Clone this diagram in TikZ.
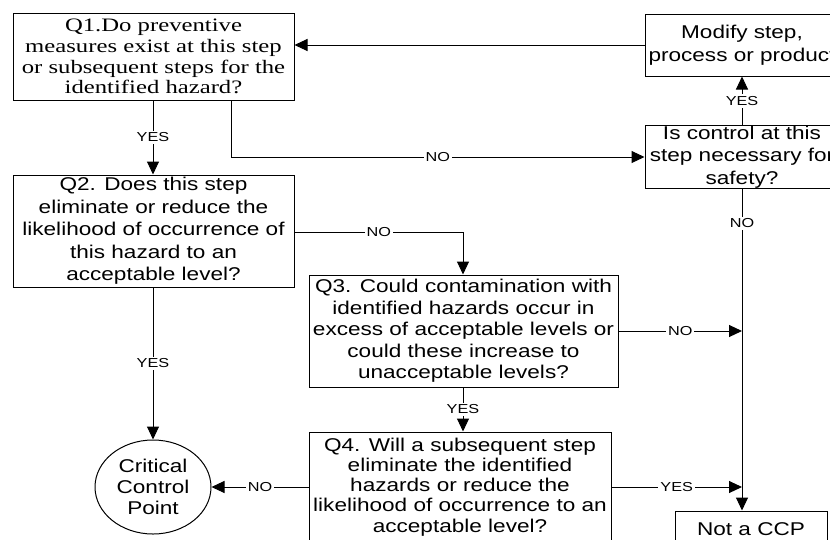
\documentclass[tikz,border=0pt]{standalone}
\usepackage{fontspec}
\usetikzlibrary{arrows.meta,shapes.geometric}
\setmainfont{Liberation Sans}
% wide-set faces for the question boxes and the YES/NO tags
\newfontfamily\boxfont[FakeStretch=1.22]{Liberation Sans}
\newfontfamily\tagfont[FakeStretch=1.25]{Liberation Sans}
\newfontfamily\serfont[FakeStretch=1.3]{Liberation Serif}

\tikzset{
  qbox/.style={draw=black, line width=1pt, rectangle, align=center, inner sep=0pt,
    font=\boxfont\fontsize{18.5}{22.5}\selectfont},
  serbox/.style={qbox, font=\serfont\fontsize{19}{20.7}\selectfont},
  endpt/.style={draw=black, line width=1pt, ellipse, align=center, inner sep=0pt,
    font=\boxfont\fontsize{18.5}{21}\selectfont},
  conn/.style={draw=black, line width=1pt},
  arr/.style={conn, -{Triangle[length=13pt,width=12pt]}},
  tag/.style={fill=white, inner sep=2pt, font=\tagfont\fontsize{13}{15}\selectfont}
}

\begin{document}
\begin{tikzpicture}[x=1pt,y=-1pt]
\useasboundingbox (0,0) rectangle (830,539);
\clip (0,0) rectangle (830,539);

% decision boxes
\node[serbox, minimum width=281pt, minimum height=87pt] (q1) at (153.5,56.5)
  {Q1.Do preventive\\measures exist at this step\\or subsequent steps for the\\identified hazard?};
\node[qbox, minimum width=194pt, minimum height=62pt] (modify) at (742,45)
  {Modify step,\\process or product};
\node[qbox, minimum width=194pt, minimum height=62pt] (ctrl) at (742,157)
  {Is control at this\\step necessary for\\safety?};
\node[qbox, minimum width=281pt, minimum height=112pt] (q2) at (153.5,231)
  {Q2. Does this step\\eliminate or reduce the\\likelihood of occurrence of\\this hazard to an\\acceptable level?};
\node[qbox, minimum width=309pt, minimum height=112pt,
      font=\boxfont\fontsize{18.5}{21.4}\selectfont] (q3) at (463.5,331)
  {Q3. Could contamination with\\identified hazards occur in\\excess of acceptable levels or\\could these increase to\\unacceptable levels?};
\node[qbox, minimum width=302pt, minimum height=110pt,
      font=\boxfont\fontsize{18.5}{20.2}\selectfont] (q4) at (460,487)
  {Q4. Will a subsequent step\\eliminate the identified\\hazards or reduce the\\likelihood of occurrence to an\\acceptable level?};

% outcomes
\node[endpt, minimum width=116pt, minimum height=94pt] (ccp) at (153,487)
  {Critical\\Control\\Point};
\node[qbox, minimum width=152pt, minimum height=36pt] (notccp) at (751,529)
  {Not a CCP};

% junction points
\coordinate (q1no) at ([xshift=77.5pt]q1.south);
\coordinate (q1corner) at (q1no |- ctrl.west);
\coordinate (q2corner) at (463,232);
\coordinate (q2start) at (q2.east |- q2corner);
\coordinate (vtop) at (ctrl.south);
\coordinate (vbot) at (ctrl.south |- notccp.north);
\coordinate (q3join) at (vtop |- q3.east);
\coordinate (q4join) at (vtop |- q4.east);

% connectors
\draw[arr] (modify.west) -- (modify.west -| q1.east);
\draw[arr] (ctrl.north) -- node[tag]{YES} (modify.south);
\draw[arr] (q1.south -| 153,0) -- node[tag]{YES} (q2.north -| 153,0);
\draw[conn] (q1no) -- (q1corner);
\draw[arr] (q1corner) -- node[tag]{NO} (ctrl.west);
\draw[conn] (q2start) -- node[tag]{NO} (q2corner);
\draw[arr] (q2corner) -- (q2corner |- q3.north);
\draw[arr] (q3.east) -- node[tag]{NO} (q3join);
\draw[arr] (vtop) -- node[tag, pos=0.108]{NO} (vbot);
\draw[arr] (q3.south -| q2corner) -- node[tag]{YES} (q4.north -| q2corner);
\draw[arr] (q4.east) -- node[tag]{YES} (q4join);
\draw[arr] (q2.south -| ccp.north) -- node[tag]{YES} (ccp.north);
\draw[arr] (q4.west) -- node[tag]{NO} (ccp.east);
\end{tikzpicture}
\end{document}
